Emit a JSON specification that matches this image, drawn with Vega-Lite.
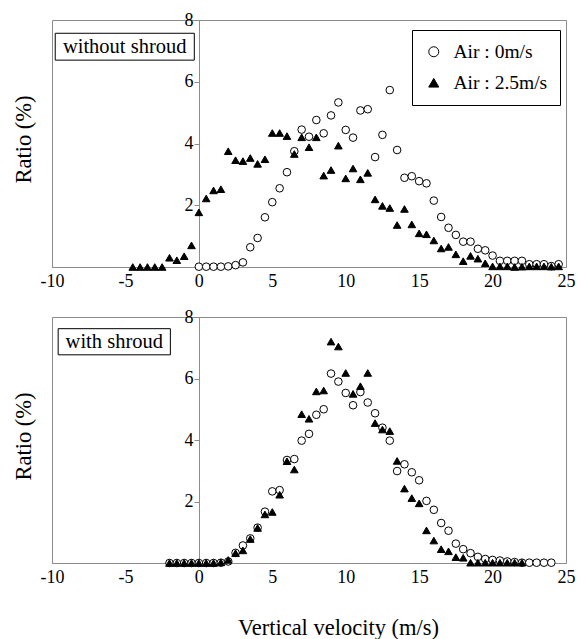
{
  "$schema": "https://vega.github.io/schema/vega-lite/v6.json",
  "background": "white",
  "padding": {"left": 11, "top": 10, "right": 2, "bottom": 2},
  "config": {
    "font": "Liberation Serif, Times New Roman, DejaVu Serif, serif",
    "view": {"stroke": "#8c8c8c", "strokeWidth": 1},
    "text": {"font": "Liberation Serif, Times New Roman, DejaVu Serif, serif"},
    "legend": {"labelFont": "Liberation Serif, Times New Roman, DejaVu Serif, serif", "titleFont": "Liberation Serif, Times New Roman, DejaVu Serif, serif"},
    "axis": {"labelFont": "Liberation Serif, Times New Roman, DejaVu Serif, serif", "labelFontSize": 18, "labelColor": "black", "domainColor": "#8c8c8c", "tickColor": "#8c8c8c", "grid": false, "titleFont": "Liberation Serif, Times New Roman, DejaVu Serif, serif", "titleFontWeight": "normal", "titleColor": "black", "titleFontSize": 22, "zindex": 0}
  },
  "datasets": {
    "without": [
      {"s": "Air : 0m/s", "v": 0, "r": 0.01}, {"s": "Air : 0m/s", "v": 0.5, "r": 0.01}, {"s": "Air : 0m/s", "v": 1, "r": 0.01}, {"s": "Air : 0m/s", "v": 1.5, "r": 0.01},
      {"s": "Air : 0m/s", "v": 2, "r": 0.02}, {"s": "Air : 0m/s", "v": 2.5, "r": 0.06}, {"s": "Air : 0m/s", "v": 3, "r": 0.15}, {"s": "Air : 0m/s", "v": 3.5, "r": 0.64},
      {"s": "Air : 0m/s", "v": 4, "r": 0.94}, {"s": "Air : 0m/s", "v": 4.5, "r": 1.61}, {"s": "Air : 0m/s", "v": 5, "r": 2.1}, {"s": "Air : 0m/s", "v": 5.5, "r": 2.55},
      {"s": "Air : 0m/s", "v": 6, "r": 3.07}, {"s": "Air : 0m/s", "v": 6.5, "r": 3.75}, {"s": "Air : 0m/s", "v": 7, "r": 4.45}, {"s": "Air : 0m/s", "v": 7.5, "r": 4.22},
      {"s": "Air : 0m/s", "v": 8, "r": 4.76}, {"s": "Air : 0m/s", "v": 8.5, "r": 4.33}, {"s": "Air : 0m/s", "v": 9, "r": 4.91}, {"s": "Air : 0m/s", "v": 9.5, "r": 5.33},
      {"s": "Air : 0m/s", "v": 10, "r": 4.44}, {"s": "Air : 0m/s", "v": 10.5, "r": 4.19}, {"s": "Air : 0m/s", "v": 11, "r": 5.07}, {"s": "Air : 0m/s", "v": 11.5, "r": 5.11},
      {"s": "Air : 0m/s", "v": 12, "r": 3.56}, {"s": "Air : 0m/s", "v": 12.5, "r": 4.28}, {"s": "Air : 0m/s", "v": 13, "r": 5.73}, {"s": "Air : 0m/s", "v": 13.5, "r": 3.79},
      {"s": "Air : 0m/s", "v": 14, "r": 2.89}, {"s": "Air : 0m/s", "v": 14.5, "r": 2.94}, {"s": "Air : 0m/s", "v": 15, "r": 2.78}, {"s": "Air : 0m/s", "v": 15.5, "r": 2.71},
      {"s": "Air : 0m/s", "v": 16, "r": 2.15}, {"s": "Air : 0m/s", "v": 16.5, "r": 1.62}, {"s": "Air : 0m/s", "v": 17, "r": 1.27}, {"s": "Air : 0m/s", "v": 17.5, "r": 1.04},
      {"s": "Air : 0m/s", "v": 18, "r": 0.82}, {"s": "Air : 0m/s", "v": 18.5, "r": 0.82}, {"s": "Air : 0m/s", "v": 19, "r": 0.59}, {"s": "Air : 0m/s", "v": 19.5, "r": 0.54},
      {"s": "Air : 0m/s", "v": 20, "r": 0.37}, {"s": "Air : 0m/s", "v": 20.5, "r": 0.2}, {"s": "Air : 0m/s", "v": 21, "r": 0.2}, {"s": "Air : 0m/s", "v": 21.5, "r": 0.2},
      {"s": "Air : 0m/s", "v": 22, "r": 0.2}, {"s": "Air : 0m/s", "v": 22.5, "r": 0.09}, {"s": "Air : 0m/s", "v": 23, "r": 0.09}, {"s": "Air : 0m/s", "v": 23.5, "r": 0.09},
      {"s": "Air : 0m/s", "v": 24, "r": 0.03}, {"s": "Air : 0m/s", "v": 24.5, "r": 0.09},
      {"s": "Air : 2.5m/s", "v": -4.5, "r": 0}, {"s": "Air : 2.5m/s", "v": -4, "r": 0}, {"s": "Air : 2.5m/s", "v": -3.5, "r": 0}, {"s": "Air : 2.5m/s", "v": -3, "r": 0},
      {"s": "Air : 2.5m/s", "v": -2.5, "r": 0}, {"s": "Air : 2.5m/s", "v": -2, "r": 0.3}, {"s": "Air : 2.5m/s", "v": -1.5, "r": 0.22}, {"s": "Air : 2.5m/s", "v": -1, "r": 0.35},
      {"s": "Air : 2.5m/s", "v": -0.5, "r": 0.7}, {"s": "Air : 2.5m/s", "v": 0, "r": 1.77}, {"s": "Air : 2.5m/s", "v": 0.5, "r": 2.22}, {"s": "Air : 2.5m/s", "v": 1, "r": 2.48},
      {"s": "Air : 2.5m/s", "v": 1.5, "r": 2.52}, {"s": "Air : 2.5m/s", "v": 2, "r": 3.75}, {"s": "Air : 2.5m/s", "v": 2.5, "r": 3.46}, {"s": "Air : 2.5m/s", "v": 3, "r": 3.43},
      {"s": "Air : 2.5m/s", "v": 3.5, "r": 3.53}, {"s": "Air : 2.5m/s", "v": 4, "r": 3.34}, {"s": "Air : 2.5m/s", "v": 4.5, "r": 3.49}, {"s": "Air : 2.5m/s", "v": 5, "r": 4.34},
      {"s": "Air : 2.5m/s", "v": 5.5, "r": 4.34}, {"s": "Air : 2.5m/s", "v": 6, "r": 4.24}, {"s": "Air : 2.5m/s", "v": 6.5, "r": 3.66}, {"s": "Air : 2.5m/s", "v": 7, "r": 4.2},
      {"s": "Air : 2.5m/s", "v": 7.5, "r": 3.88}, {"s": "Air : 2.5m/s", "v": 8, "r": 4.2}, {"s": "Air : 2.5m/s", "v": 8.5, "r": 2.96}, {"s": "Air : 2.5m/s", "v": 9, "r": 3.14},
      {"s": "Air : 2.5m/s", "v": 9.5, "r": 3.93}, {"s": "Air : 2.5m/s", "v": 10, "r": 2.87}, {"s": "Air : 2.5m/s", "v": 10.5, "r": 3.19}, {"s": "Air : 2.5m/s", "v": 11, "r": 2.84},
      {"s": "Air : 2.5m/s", "v": 11.5, "r": 3.05}, {"s": "Air : 2.5m/s", "v": 12, "r": 2.19}, {"s": "Air : 2.5m/s", "v": 12.5, "r": 1.98}, {"s": "Air : 2.5m/s", "v": 13, "r": 1.91},
      {"s": "Air : 2.5m/s", "v": 13.5, "r": 1.36}, {"s": "Air : 2.5m/s", "v": 14, "r": 1.88}, {"s": "Air : 2.5m/s", "v": 14.5, "r": 1.38}, {"s": "Air : 2.5m/s", "v": 15, "r": 1.09},
      {"s": "Air : 2.5m/s", "v": 15.5, "r": 1.06}, {"s": "Air : 2.5m/s", "v": 16, "r": 0.86}, {"s": "Air : 2.5m/s", "v": 16.5, "r": 0.6}, {"s": "Air : 2.5m/s", "v": 17, "r": 0.65},
      {"s": "Air : 2.5m/s", "v": 17.5, "r": 0.41}, {"s": "Air : 2.5m/s", "v": 18, "r": 0.19}, {"s": "Air : 2.5m/s", "v": 18.5, "r": 0.36}, {"s": "Air : 2.5m/s", "v": 19, "r": 0.27},
      {"s": "Air : 2.5m/s", "v": 19.5, "r": 0.12}, {"s": "Air : 2.5m/s", "v": 20, "r": 0.02}, {"s": "Air : 2.5m/s", "v": 20.5, "r": 0.02}, {"s": "Air : 2.5m/s", "v": 21, "r": 0.02},
      {"s": "Air : 2.5m/s", "v": 21.5, "r": 0}, {"s": "Air : 2.5m/s", "v": 22, "r": 0.01}, {"s": "Air : 2.5m/s", "v": 22.5, "r": 0.02}, {"s": "Air : 2.5m/s", "v": 23, "r": 0.02},
      {"s": "Air : 2.5m/s", "v": 23.5, "r": 0.02}, {"s": "Air : 2.5m/s", "v": 24, "r": 0.01}, {"s": "Air : 2.5m/s", "v": 24.5, "r": 0.02}
    ],
    "with": [
      {"s": "Air : 0m/s", "v": -2, "r": 0}, {"s": "Air : 0m/s", "v": -1.5, "r": 0}, {"s": "Air : 0m/s", "v": -1, "r": 0}, {"s": "Air : 0m/s", "v": -0.5, "r": 0},
      {"s": "Air : 0m/s", "v": 0, "r": 0}, {"s": "Air : 0m/s", "v": 0.5, "r": 0}, {"s": "Air : 0m/s", "v": 1, "r": 0}, {"s": "Air : 0m/s", "v": 1.5, "r": 0.01},
      {"s": "Air : 0m/s", "v": 2, "r": 0.05}, {"s": "Air : 0m/s", "v": 2.5, "r": 0.33}, {"s": "Air : 0m/s", "v": 3, "r": 0.57}, {"s": "Air : 0m/s", "v": 3.5, "r": 0.8},
      {"s": "Air : 0m/s", "v": 4, "r": 1.15}, {"s": "Air : 0m/s", "v": 4.5, "r": 1.67}, {"s": "Air : 0m/s", "v": 5, "r": 2.33}, {"s": "Air : 0m/s", "v": 5.5, "r": 2.37},
      {"s": "Air : 0m/s", "v": 6, "r": 3.35}, {"s": "Air : 0m/s", "v": 6.5, "r": 3.38}, {"s": "Air : 0m/s", "v": 7, "r": 3.98}, {"s": "Air : 0m/s", "v": 7.5, "r": 4.2},
      {"s": "Air : 0m/s", "v": 8, "r": 4.82}, {"s": "Air : 0m/s", "v": 8.5, "r": 5.0}, {"s": "Air : 0m/s", "v": 9, "r": 6.16}, {"s": "Air : 0m/s", "v": 9.5, "r": 5.9},
      {"s": "Air : 0m/s", "v": 10, "r": 5.53}, {"s": "Air : 0m/s", "v": 10.5, "r": 5.13}, {"s": "Air : 0m/s", "v": 11, "r": 5.56}, {"s": "Air : 0m/s", "v": 11.5, "r": 5.22},
      {"s": "Air : 0m/s", "v": 12, "r": 4.87}, {"s": "Air : 0m/s", "v": 12.5, "r": 4.4}, {"s": "Air : 0m/s", "v": 13, "r": 3.98}, {"s": "Air : 0m/s", "v": 13.5, "r": 2.99},
      {"s": "Air : 0m/s", "v": 14, "r": 3.21}, {"s": "Air : 0m/s", "v": 14.5, "r": 2.95}, {"s": "Air : 0m/s", "v": 15, "r": 2.69}, {"s": "Air : 0m/s", "v": 15.5, "r": 2.02},
      {"s": "Air : 0m/s", "v": 16, "r": 1.73}, {"s": "Air : 0m/s", "v": 16.5, "r": 1.3}, {"s": "Air : 0m/s", "v": 17, "r": 1.05}, {"s": "Air : 0m/s", "v": 17.5, "r": 0.63},
      {"s": "Air : 0m/s", "v": 18, "r": 0.45}, {"s": "Air : 0m/s", "v": 18.5, "r": 0.32}, {"s": "Air : 0m/s", "v": 19, "r": 0.2}, {"s": "Air : 0m/s", "v": 19.5, "r": 0.13},
      {"s": "Air : 0m/s", "v": 20, "r": 0.1}, {"s": "Air : 0m/s", "v": 20.5, "r": 0.08}, {"s": "Air : 0m/s", "v": 21, "r": 0.05}, {"s": "Air : 0m/s", "v": 21.5, "r": 0.03},
      {"s": "Air : 0m/s", "v": 22, "r": 0.01}, {"s": "Air : 0m/s", "v": 22.5, "r": 0.01}, {"s": "Air : 0m/s", "v": 23, "r": 0.01}, {"s": "Air : 0m/s", "v": 23.5, "r": 0.01},
      {"s": "Air : 0m/s", "v": 24, "r": 0.01},
      {"s": "Air : 2.5m/s", "v": -2, "r": 0}, {"s": "Air : 2.5m/s", "v": -1.5, "r": 0}, {"s": "Air : 2.5m/s", "v": -1, "r": 0}, {"s": "Air : 2.5m/s", "v": -0.5, "r": 0},
      {"s": "Air : 2.5m/s", "v": 0, "r": 0}, {"s": "Air : 2.5m/s", "v": 0.5, "r": 0}, {"s": "Air : 2.5m/s", "v": 1, "r": 0}, {"s": "Air : 2.5m/s", "v": 1.5, "r": 0.02},
      {"s": "Air : 2.5m/s", "v": 2, "r": 0.1}, {"s": "Air : 2.5m/s", "v": 2.5, "r": 0.32}, {"s": "Air : 2.5m/s", "v": 3, "r": 0.41}, {"s": "Air : 2.5m/s", "v": 3.5, "r": 0.78},
      {"s": "Air : 2.5m/s", "v": 4, "r": 1.14}, {"s": "Air : 2.5m/s", "v": 4.5, "r": 1.58}, {"s": "Air : 2.5m/s", "v": 5, "r": 1.66}, {"s": "Air : 2.5m/s", "v": 5.5, "r": 2.22},
      {"s": "Air : 2.5m/s", "v": 6, "r": 3.31}, {"s": "Air : 2.5m/s", "v": 6.5, "r": 3.04}, {"s": "Air : 2.5m/s", "v": 7, "r": 4.84}, {"s": "Air : 2.5m/s", "v": 7.5, "r": 4.69},
      {"s": "Air : 2.5m/s", "v": 8, "r": 5.58}, {"s": "Air : 2.5m/s", "v": 8.5, "r": 5.61}, {"s": "Air : 2.5m/s", "v": 9, "r": 7.2}, {"s": "Air : 2.5m/s", "v": 9.5, "r": 7.04},
      {"s": "Air : 2.5m/s", "v": 10, "r": 6.18}, {"s": "Air : 2.5m/s", "v": 10.5, "r": 5.5}, {"s": "Air : 2.5m/s", "v": 11, "r": 5.75}, {"s": "Air : 2.5m/s", "v": 11.5, "r": 6.18},
      {"s": "Air : 2.5m/s", "v": 12, "r": 4.55}, {"s": "Air : 2.5m/s", "v": 12.5, "r": 4.34}, {"s": "Air : 2.5m/s", "v": 13, "r": 4.29}, {"s": "Air : 2.5m/s", "v": 13.5, "r": 3.32},
      {"s": "Air : 2.5m/s", "v": 14, "r": 2.42}, {"s": "Air : 2.5m/s", "v": 14.5, "r": 2.11}, {"s": "Air : 2.5m/s", "v": 15, "r": 1.94}, {"s": "Air : 2.5m/s", "v": 15.5, "r": 1.06},
      {"s": "Air : 2.5m/s", "v": 16, "r": 0.73}, {"s": "Air : 2.5m/s", "v": 16.5, "r": 0.45}, {"s": "Air : 2.5m/s", "v": 17, "r": 0.38}, {"s": "Air : 2.5m/s", "v": 17.5, "r": 0.19},
      {"s": "Air : 2.5m/s", "v": 18, "r": 0.17}, {"s": "Air : 2.5m/s", "v": 18.5, "r": 0.01}, {"s": "Air : 2.5m/s", "v": 19, "r": 0.01}, {"s": "Air : 2.5m/s", "v": 19.5, "r": 0.01},
      {"s": "Air : 2.5m/s", "v": 20, "r": 0.01}, {"s": "Air : 2.5m/s", "v": 20.5, "r": 0.01}, {"s": "Air : 2.5m/s", "v": 21, "r": 0.01}, {"s": "Air : 2.5m/s", "v": 21.5, "r": 0.01},
      {"s": "Air : 2.5m/s", "v": 22, "r": 0.01}
    ]
  },
  "spacing": 16,
  "vconcat": [
    {
      "width": 514,
      "height": 247,
      "layer": [
        {
          "data": {"values": [{"label": "without shroud"}]},
          "mark": {"type": "rect", "fill": "white", "stroke": "black", "strokeWidth": 1},
          "encoding": {
            "x": {"datum": -9.78, "type": "quantitative"},
            "x2": {"datum": -0.31},
            "y": {"datum": 7.57, "type": "quantitative"},
            "y2": {"datum": 6.7}
          }
        },
        {
          "data": {"values": [{"label": "without shroud"}]},
          "mark": {"type": "text", "fontSize": 20.5, "align": "center", "baseline": "middle", "color": "black"},
          "encoding": {
            "x": {"datum": -5.05, "type": "quantitative"},
            "y": {"datum": 7.12, "type": "quantitative"},
            "text": {"field": "label"}
          }
        },
        {
          "data": {"name": "without"},
          "mark": {"type": "point", "size": 58, "strokeWidth": 1, "opacity": 1, "fillOpacity": 1, "strokeOpacity": 1},
          "encoding": {
            "x": {"field": "v", "type": "quantitative", "scale": {"domain": [-10, 25], "nice": false, "zero": false},
              "axis": {"values": [-10, -5, 0, 5, 10, 15, 20, 25], "title": null, "ticks": false, "labelPadding": 5, "labelExpr": "'' + datum.value", "labelFlush": false}},
            "y": {"field": "r", "type": "quantitative", "scale": {"domain": [0, 8], "nice": false},
              "axis": {"values": [2, 4, 6, 8], "offset": -147, "title": "Ratio (%)", "titleFontSize": 22.5, "titleX": -176, "titleY": 119, "titleBaseline": "middle", "titleAlign": "center", "titleAngle": 270, "titleLimit": 300, "tickSize": 5, "labelPadding": 1, "labelExpr": "'' + datum.value", "labelFlush": false}},
            "shape": {"field": "s", "type": "nominal", "scale": {"domain": ["Air : 0m/s", "Air : 2.5m/s"], "range": ["circle", "triangle-up"]},
              "legend": {"orient": "none", "legendX": 360, "legendY": 10, "title": null, "strokeColor": "black", "fillColor": "white", "padding": 12, "labelFontSize": 19.5, "labelColor": "black", "symbolSize": 100, "symbolStrokeWidth": 1, "rowPadding": 10, "labelOffset": 10, "cornerRadius": 0}},
            "fill": {"field": "s", "type": "nominal", "scale": {"domain": ["Air : 0m/s", "Air : 2.5m/s"], "range": ["white", "black"]},
              "legend": {"orient": "none", "legendX": 360, "legendY": 10, "title": null, "strokeColor": "black", "fillColor": "white", "padding": 12, "labelFontSize": 19.5, "labelColor": "black", "symbolSize": 100, "symbolStrokeWidth": 1, "rowPadding": 10, "labelOffset": 10, "cornerRadius": 0}},
            "stroke": {"field": "s", "type": "nominal", "scale": {"domain": ["Air : 0m/s", "Air : 2.5m/s"], "range": ["black", "black"]},
              "legend": {"orient": "none", "legendX": 360, "legendY": 10, "title": null, "strokeColor": "black", "fillColor": "white", "padding": 12, "labelFontSize": 19.5, "labelColor": "black", "symbolSize": 100, "symbolStrokeWidth": 1, "rowPadding": 10, "labelOffset": 10, "cornerRadius": 0}}
          }
        }
      ]
    },
    {
      "width": 514,
      "height": 246,
      "layer": [
        {
          "data": {"values": [{"label": "with shroud"}]},
          "mark": {"type": "rect", "fill": "white", "stroke": "black", "strokeWidth": 1},
          "encoding": {
            "x": {"datum": -9.58, "type": "quantitative"},
            "x2": {"datum": -1.94},
            "y": {"datum": 7.62, "type": "quantitative"},
            "y2": {"datum": 6.77}
          }
        },
        {
          "data": {"values": [{"label": "with shroud"}]},
          "mark": {"type": "text", "fontSize": 20.5, "align": "center", "baseline": "middle", "color": "black"},
          "encoding": {
            "x": {"datum": -5.76, "type": "quantitative"},
            "y": {"datum": 7.18, "type": "quantitative"},
            "text": {"field": "label"}
          }
        },
        {
          "data": {"name": "with"},
          "mark": {"type": "point", "size": 58, "stroke": "black", "strokeWidth": 1, "opacity": 1, "fillOpacity": 1, "strokeOpacity": 1},
          "encoding": {
            "x": {"field": "v", "type": "quantitative", "scale": {"domain": [-10, 25], "nice": false, "zero": false},
              "axis": {"values": [-10, -5, 0, 5, 10, 15, 20, 25], "title": "Vertical velocity (m/s)", "titleFontSize": 22.5, "titleX": 286, "titleAlign": "center", "titlePadding": 30, "ticks": false, "labelPadding": 5, "labelExpr": "'' + datum.value", "labelFlush": false}},
            "y": {"field": "r", "type": "quantitative", "scale": {"domain": [0, 8], "nice": false},
              "axis": {"values": [2, 4, 6, 8], "offset": -147, "title": "Ratio (%)", "titleFontSize": 22.5, "titleX": -176, "titleY": 119, "titleBaseline": "middle", "titleAlign": "center", "titleAngle": 270, "titleLimit": 300, "tickSize": 5, "labelPadding": 1, "labelExpr": "'' + datum.value", "labelFlush": false}},
            "shape": {"field": "s", "type": "nominal", "scale": {"domain": ["Air : 0m/s", "Air : 2.5m/s"], "range": ["circle", "triangle-up"]}, "legend": null},
            "fill": {"field": "s", "type": "nominal", "scale": {"domain": ["Air : 0m/s", "Air : 2.5m/s"], "range": ["white", "black"]}, "legend": null}
          }
        }
      ]
    }
  ],
  "resolve": {
    "scale": {"shape": "independent", "fill": "independent", "stroke": "independent"},
    "legend": {"shape": "independent", "fill": "independent", "stroke": "independent"}
  }
}
